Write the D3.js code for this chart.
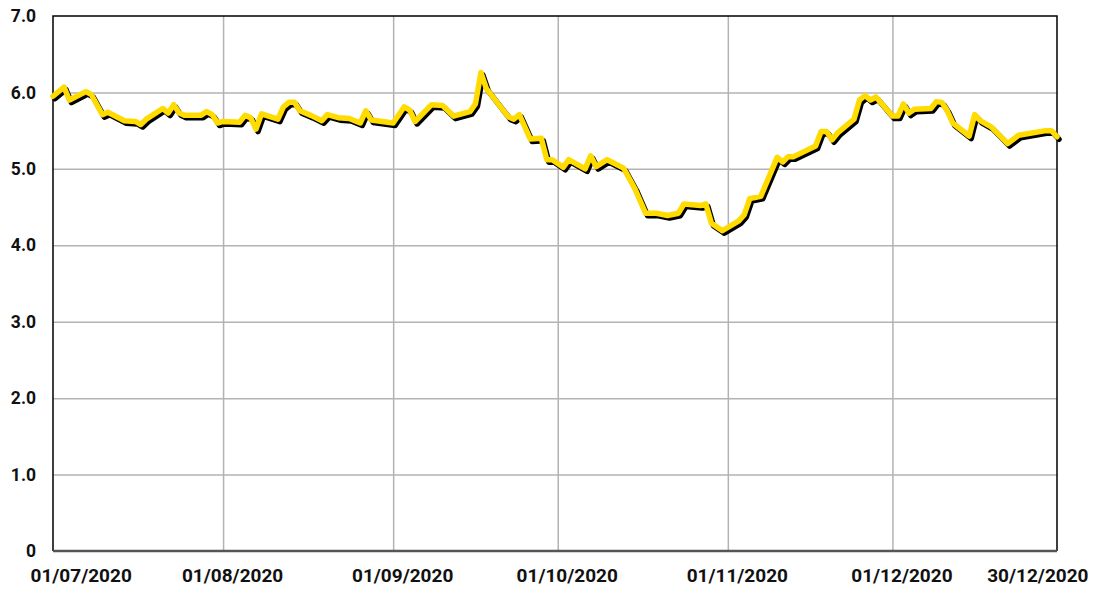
<!DOCTYPE html>
<html>
<head>
<meta charset="utf-8">
<script src="https://cdn.jsdelivr.net/npm/d3@7"></script>
<style>
  body { margin: 0; background: #fff; }
  svg { display: block; font-family: Roboto, "Noto Sans", sans-serif; }
</style>
</head>
<body>
<svg></svg>
<script>
// daily readings
let dates = [
  '2020-07-01','2020-07-03','2020-07-04','2020-07-07','2020-07-08','2020-07-10','2020-07-11','2020-07-14',
  '2020-07-16','2020-07-17','2020-07-18','2020-07-21','2020-07-22','2020-07-23','2020-07-24','2020-07-25',
  '2020-07-28','2020-07-29','2020-07-30','2020-07-31','2020-08-01','2020-08-04','2020-08-05','2020-08-06',
  '2020-08-07','2020-08-08','2020-08-11','2020-08-12','2020-08-13','2020-08-14','2020-08-15','2020-08-17',
  '2020-08-19','2020-08-20','2020-08-22','2020-08-24','2020-08-26','2020-08-27','2020-08-28','2020-08-30',
  '2020-09-01','2020-09-03','2020-09-04','2020-09-05','2020-09-08','2020-09-10','2020-09-12','2020-09-15',
  '2020-09-16','2020-09-17','2020-09-18','2020-09-22','2020-09-23','2020-09-24','2020-09-26','2020-09-28',
  '2020-09-29','2020-09-30','2020-10-02','2020-10-03','2020-10-06','2020-10-07','2020-10-08','2020-10-10',
  '2020-10-13','2020-10-15','2020-10-17','2020-10-19','2020-10-21','2020-10-23','2020-10-24','2020-10-27',
  '2020-10-28','2020-10-29','2020-10-31','2020-11-03','2020-11-04','2020-11-05','2020-11-07','2020-11-10',
  '2020-11-11','2020-11-12','2020-11-13','2020-11-17','2020-11-18','2020-11-19','2020-11-20','2020-11-21',
  '2020-11-24','2020-11-25','2020-11-26','2020-11-27','2020-11-28','2020-12-01','2020-12-02','2020-12-03',
  '2020-12-04','2020-12-05','2020-12-08','2020-12-09','2020-12-10','2020-12-11','2020-12-12','2020-12-15',
  '2020-12-16','2020-12-17','2020-12-19','2020-12-22','2020-12-24','2020-12-29','2020-12-30','2020-12-31'
]
let values = [
  5.95, 6.07, 5.90, 6.01, 5.97, 5.71, 5.74, 5.63,
  5.62, 5.58, 5.65, 5.79, 5.73, 5.84, 5.73, 5.70,
  5.70, 5.75, 5.71, 5.60, 5.62, 5.61, 5.70, 5.67,
  5.52, 5.72, 5.65, 5.81, 5.87, 5.87, 5.76, 5.70,
  5.63, 5.71, 5.67, 5.66, 5.60, 5.76, 5.64, 5.62,
  5.60, 5.81, 5.77, 5.62, 5.84, 5.83, 5.69, 5.75,
  5.85, 6.26, 6.05, 5.68, 5.65, 5.71, 5.39, 5.40,
  5.12, 5.12, 5.02, 5.12, 5.00, 5.17, 5.03, 5.12,
  5.01, 4.75, 4.42, 4.42, 4.39, 4.42, 4.54, 4.52,
  4.54, 4.29, 4.19, 4.32, 4.40, 4.61, 4.64, 5.15,
  5.09, 5.16, 5.16, 5.30, 5.49, 5.49, 5.38, 5.47,
  5.65, 5.90, 5.96, 5.90, 5.94, 5.69, 5.69, 5.85,
  5.73, 5.78, 5.79, 5.88, 5.87, 5.76, 5.60, 5.43,
  5.71, 5.63, 5.55, 5.33, 5.44, 5.50, 5.50, 5.42
]

// x ticks
let tickDates = ['2020-07-01','2020-08-01','2020-09-01','2020-10-01','2020-11-01','2020-12-01','2020-12-31']
let tickLabels = ['01/07/2020','01/08/2020','01/09/2020','01/10/2020','01/11/2020','01/12/2020','30/12/2020']
// y ticks
let yTicks = [0, 1, 2, 3, 4, 5, 6, 7]
let yLabels = ['0', '1.0', '2.0', '3.0', '4.0', '5.0', '6.0', '7.0']

let width = 1104
let height = 591
let margin = {top: 16, right: 47, bottom: 40, left: 53}

let parse = d3.timeParse('%Y-%m-%d')
let points = dates.map((d, i) => [parse(d), values[i]])

let svg = d3.select('svg')
    .attr('width', width)
    .attr('height', height)

let xScale = d3.scaleTime()
    .domain([parse('2020-07-01'), parse('2020-12-31')])
    .range([margin.left, width - margin.right])

let yScale = d3.scaleLinear()
    .domain([0, 7])
    .range([height - margin.bottom, margin.top])

let plotW = width - margin.left - margin.right
let plotH = height - margin.top - margin.bottom

// vertical grid
svg.append('g')
    .attr('transform', 'translate(0,' + margin.top + ')')
    .call(d3.axisBottom(xScale).tickValues(tickDates.slice(1, -1).map(parse)).tickSize(plotH).tickFormat(''))
    .call(g => g.select('.domain').remove())
    .call(g => g.selectAll('line').attr('stroke', '#b3b3b3').attr('stroke-width', 1.5))

// horizontal grid
svg.append('g')
    .attr('transform', 'translate(' + margin.left + ',0)')
    .call(d3.axisRight(yScale).tickValues(yTicks.slice(1, -1)).tickSize(plotW).tickFormat(''))
    .call(g => g.select('.domain').remove())
    .call(g => g.selectAll('line').attr('stroke', '#b3b3b3').attr('stroke-width', 1.5))

// frame: top, left, right black
let x0 = margin.left, x1 = width - margin.right
let y0 = margin.top, y1 = height - margin.bottom
svg.append('path')
    .attr('d', 'M' + x0 + ',' + y1 + 'V' + y0 + 'H' + x1 + 'V' + y1)
    .attr('fill', 'none')
    .attr('stroke', '#000')
    .attr('stroke-width', 1.5)

// line with a black drop shadow
let line = d3.line()
    .x(d => xScale(d[0]))
    .y(d => yScale(d[1]))

svg.append('path')
    .datum(points)
    .attr('d', line)
    .attr('transform', 'translate(2,2.5)')
    .attr('fill', 'none')
    .attr('stroke', '#000')
    .attr('stroke-width', 5.5)
    .attr('stroke-linejoin', 'round')
    .attr('stroke-linecap', 'round')

svg.append('path')
    .datum(points)
    .attr('d', line)
    .attr('fill', 'none')
    .attr('stroke', '#ffdb00')
    .attr('stroke-width', 5.5)
    .attr('stroke-linejoin', 'round')
    .attr('stroke-linecap', 'round')

// bottom axis line
svg.append('line')
    .attr('x1', x0).attr('x2', x1)
    .attr('y1', y1).attr('y2', y1)
    .attr('stroke', '#555')
    .attr('stroke-width', 2.5)

// x labels
let xAxis = d3.axisBottom(xScale)
    .tickValues(tickDates.map(parse))
    .tickSize(0)
    .tickPadding(18)
    .tickFormat((d, i) => tickLabels[i])
svg.append('g')
    .attr('transform', 'translate(0,' + y1 + ')')
    .call(xAxis)
    .call(g => g.select('.domain').remove())
    .call(g => g.selectAll('text')
        .attr('font-size', 19)
        .attr('font-weight', 700)
        .attr('fill', '#111')
        .attr('font-family', 'Roboto, sans-serif')
        .attr('text-anchor', (d, i) => i === 0 ? 'start' : (i === tickDates.length - 1 ? 'end' : 'middle'))
        .attr('dx', (d, i) => i === 0 ? -23 : (i === tickDates.length - 1 ? 31 : 9)))

// y labels
let yAxis = d3.axisLeft(yScale)
    .tickValues(yTicks)
    .tickSize(0)
    .tickPadding(17)
    .tickFormat((d, i) => yLabels[i])
svg.append('g')
    .attr('transform', 'translate(' + margin.left + ',0)')
    .call(yAxis)
    .call(g => g.select('.domain').remove())
    .call(g => g.selectAll('text')
        .attr('font-size', 17.5)
        .attr('font-weight', 700)
        .attr('fill', '#111')
        .attr('font-family', 'Roboto, sans-serif'))
</script>
</body>
</html>
